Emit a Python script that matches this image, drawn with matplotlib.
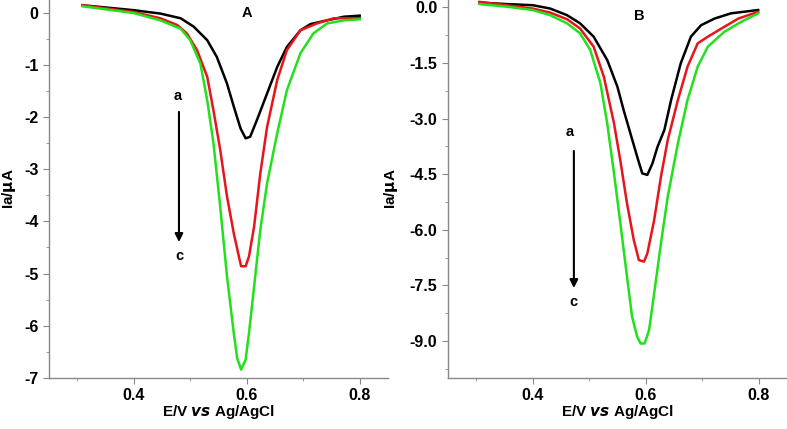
import matplotlib
matplotlib.use("Agg")
import matplotlib.pyplot as plt
from matplotlib.ticker import MultipleLocator, FuncFormatter

plt.rcParams['font.family'] = ['Liberation Sans', 'DejaVu Sans']
plt.rcParams['font.weight'] = 'bold'

# panel A, curves a (black), b (red), c (green)
ea_a = [0.309, 0.40, 0.447, 0.483, 0.506, 0.530, 0.547, 0.565, 0.577, 0.589, 0.598,
        0.606, 0.618, 0.636, 0.654, 0.671, 0.695, 0.713, 0.742, 0.772, 0.80]
ia_a = [0.14, 0.045, -0.02, -0.11, -0.27, -0.53, -0.85, -1.36, -1.80, -2.22, -2.41,
        -2.38, -2.06, -1.55, -1.04, -0.66, -0.34, -0.22, -0.15, -0.08, -0.06]
ea_b = [0.309, 0.40, 0.447, 0.477, 0.494, 0.512, 0.530, 0.541, 0.553, 0.565, 0.577,
        0.586, 0.590, 0.598, 0.604, 0.613, 0.624, 0.636, 0.654, 0.671, 0.695, 0.724,
        0.754, 0.80]
ia_b = [0.14, 0.01, -0.11, -0.24, -0.40, -0.72, -1.23, -1.87, -2.63, -3.52, -4.23,
        -4.67, -4.86, -4.86, -4.67, -4.10, -3.08, -2.19, -1.29, -0.72, -0.34, -0.21,
        -0.11, -0.11]
ea_c = [0.309, 0.40, 0.447, 0.483, 0.500, 0.518, 0.530, 0.541, 0.553, 0.565, 0.577,
        0.583, 0.590, 0.598, 0.604, 0.613, 0.624, 0.636, 0.654, 0.671, 0.695, 0.718,
        0.742, 0.772, 0.80]
ia_c = [0.12, -0.01, -0.15, -0.31, -0.53, -0.98, -1.68, -2.50, -3.72, -5.05, -6.14,
        -6.62, -6.84, -6.65, -6.14, -5.25, -4.16, -3.27, -2.31, -1.49, -0.78, -0.40,
        -0.21, -0.15, -0.13]

# panel B
eb_a = [0.306, 0.354, 0.40, 0.431, 0.461, 0.484, 0.508, 0.532, 0.550, 0.561, 0.573,
        0.585, 0.594, 0.603, 0.612, 0.621, 0.633, 0.645, 0.662, 0.680, 0.698, 0.722,
        0.751, 0.799]
ib_a = [0.13, 0.09, 0.06, -0.03, -0.21, -0.43, -0.79, -1.42, -2.14, -2.77, -3.40,
        -4.03, -4.48, -4.52, -4.21, -3.76, -3.31, -2.50, -1.51, -0.79, -0.48, -0.30,
        -0.16, -0.07]
eb_b = [0.306, 0.354, 0.40, 0.431, 0.461, 0.484, 0.508, 0.526, 0.544, 0.556, 0.567,
        0.579, 0.588, 0.597, 0.603, 0.615, 0.627, 0.639, 0.657, 0.674, 0.692, 0.710,
        0.734, 0.764, 0.799]
ib_b = [0.15, 0.06, -0.03, -0.14, -0.32, -0.57, -1.06, -1.87, -3.13, -4.21, -5.29,
        -6.28, -6.82, -6.86, -6.64, -5.74, -4.57, -3.58, -2.50, -1.60, -0.97, -0.79,
        -0.57, -0.30, -0.12]
eb_c = [0.306, 0.354, 0.40, 0.431, 0.461, 0.484, 0.502, 0.520, 0.532, 0.544, 0.556,
        0.567, 0.576, 0.585, 0.591, 0.598, 0.606, 0.615, 0.627, 0.639, 0.657, 0.674,
        0.692, 0.710, 0.739, 0.769, 0.799]
ib_c = [0.09, 0.02, -0.07, -0.21, -0.43, -0.70, -1.15, -2.05, -3.13, -4.48, -5.92,
        -7.27, -8.35, -8.89, -9.07, -9.07, -8.71, -7.72, -6.37, -5.11, -3.67, -2.50,
        -1.60, -1.06, -0.66, -0.39, -0.16]

colors = ['black', '#e8141b', '#22e01c']

fig = plt.figure(figsize=(7.87, 4.29), dpi=100)
ax1 = fig.add_axes([0.0623, 0.119, 0.4307, 0.881])
ax2 = fig.add_axes([0.569, 0.119, 0.431, 0.881])

def style(ax, ymin, ymax, ystep):
    for s in ['top', 'right']:
        ax.spines[s].set_visible(False)
    for s in ['left', 'bottom']:
        ax.spines[s].set_color('#888888')
        ax.spines[s].set_linewidth(1.0)
    ax.set_xlim(0.25, 0.85)
    ax.set_ylim(ymin, ymax)
    ax.xaxis.set_major_locator(MultipleLocator(0.2))
    ax.xaxis.set_minor_locator(MultipleLocator(0.1))
    ax.yaxis.set_major_locator(MultipleLocator(ystep))
    ax.yaxis.set_minor_locator(MultipleLocator(ystep / 2))
    ax.tick_params(which='major', direction='out', length=4, color='#888888',
                   labelsize=11.5)
    ax.tick_params(which='minor', direction='out', length=2.5, color='#888888')
    ax.set_xlabel(r'E/V $\mathbfit{vs}$ Ag/AgCl', fontsize=11, fontweight='bold')
    ax.set_ylabel(r'Ia/$\mathbf{\mu}$A', fontsize=11, fontweight='bold')

for e, i, c in zip([ea_a, ea_b, ea_c], [ia_a, ia_b, ia_c], colors):
    ax1.plot(e, i, color=c, lw=1.8)
for e, i, c in zip([eb_a, eb_b, eb_c], [ib_a, ib_b, ib_c], colors):
    ax2.plot(e, i, color=c, lw=1.8)

style(ax1, -7.0, 0.24, 1)
ax1.yaxis.set_major_formatter(FuncFormatter(lambda v, p: '%d' % round(v)))
style(ax2, -10.0, 0.2, 1.5)
ax2.yaxis.set_major_formatter(FuncFormatter(lambda v, p: '%.1f' % v))

for ax in (ax1, ax2):
    for lab in ax.get_xticklabels() + ax.get_yticklabels():
        lab.set_fontweight('bold')

ax1.yaxis.set_label_coords(-0.093, 0.5)
ax2.yaxis.set_label_coords(-0.14, 0.5)
ax1.xaxis.set_label_coords(0.5, -0.065)
ax2.xaxis.set_label_coords(0.5, -0.065)

ax1.text(0.6, 0.0, 'A', fontsize=10.5, fontweight='bold', ha='center', va='center')
ax2.text(0.588, -0.23, 'B', fontsize=10.5, fontweight='bold', ha='center', va='center')

ax1.text(0.477, -1.6, 'a', fontsize=10.5, fontweight='bold', ha='center', va='center')
ax1.text(0.48, -4.67, 'c', fontsize=10.5, fontweight='bold', ha='center', va='center')
ax1.annotate('', xy=(0.48, -4.45), xytext=(0.48, -1.85),
             arrowprops=dict(arrowstyle='-|>', color='black', lw=1.5, mutation_scale=12))

ax2.text(0.466, -3.36, 'a', fontsize=10.5, fontweight='bold', ha='center', va='center')
ax2.text(0.473, -7.94, 'c', fontsize=10.5, fontweight='bold', ha='center', va='center')
ax2.annotate('', xy=(0.473, -7.65), xytext=(0.473, -3.8),
             arrowprops=dict(arrowstyle='-|>', color='black', lw=1.5, mutation_scale=12))

fig.savefig('out.png', dpi=100)
